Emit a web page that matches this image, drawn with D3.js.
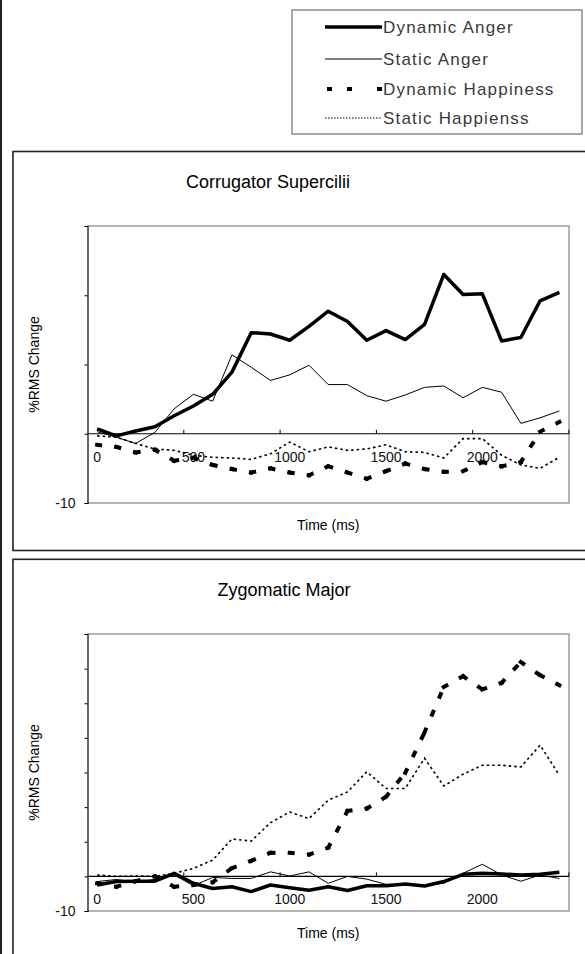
<!DOCTYPE html>
<html>
<head>
<meta charset="utf-8">
<script src="https://cdn.jsdelivr.net/npm/d3@7/dist/d3.min.js"></script>
<style>
  html, body { margin: 0; padding: 0; background: #fff; }
  svg { display: block; }
  text { font-family: "Liberation Sans", Arial, sans-serif; }
</style>
</head>
<body>
<svg id="chart" width="585" height="954"></svg>
<script>
// ---------- DATA ----------
const timeCategories = ["0","100","200","300","400","500","600","700","800","900","1000","1100","1200",
  "1300","1400","1500","1600","1700","1800","1900","2000","2100","2200","2300","2400"];
const xTickLabels = ["0","500","1000","1500","2000"];
const seriesNames = ["Dynamic Anger","Static Anger","Dynamic Happiness","Static Happienss"];

// Corrugator Supercilii (%RMS change)
const corDynamicAnger = [0.7,-0.3,0.4,1.0,2.6,4.0,5.7,8.9,14.6,14.4,13.5,15.5,17.7,16.2,13.5,14.9,13.6,15.8,23.0,20.1,20.2,13.4,13.9,19.2,20.4];
const corStaticAnger  = [0.3,-0.5,-1.4,0.2,3.6,5.7,4.7,11.4,9.6,7.7,8.5,9.9,7.1,7.1,5.5,4.7,5.6,6.7,6.9,5.2,6.7,6.0,1.5,2.3,3.3];
const corDynamicHappy = [-1.6,-1.9,-2.7,-2.3,-3.9,-3.5,-4.5,-5.1,-5.6,-5.0,-5.6,-6.0,-4.7,-5.6,-6.5,-5.4,-4.3,-5.1,-5.5,-5.4,-4.1,-4.7,-4.1,0.3,1.7];
const corStaticHappy  = [-0.3,-0.5,-1.4,-2.2,-2.4,-3.1,-3.4,-3.5,-3.7,-2.9,-1.2,-2.6,-1.9,-2.4,-2.2,-1.6,-2.6,-2.7,-3.5,-0.7,-0.7,-3.1,-4.5,-5.0,-3.4];

// Zygomatic Major (%RMS change)
const zygDynamicAnger = [-2.5,-1.5,-1.4,-1.4,0.9,-2.0,-3.5,-3.0,-4.4,-2.5,-3.3,-4.0,-3.0,-4.1,-2.7,-2.7,-2.2,-2.8,-1.5,0.6,0.9,0.7,0.4,0.6,1.2];
const zygStaticAnger  = [-1.5,-0.9,-1.6,-0.9,0.4,-2.7,-0.3,-0.6,-0.6,1.3,0.1,1.3,-2.0,0.0,-0.8,-2.3,-2.3,-2.5,-2.0,0.9,3.5,0.4,-1.4,0.4,-0.6];
const zygDynamicHappy = [-2.0,-3.0,-1.4,0.0,-3.0,-2.5,-1.7,2.4,4.5,6.8,6.8,6.3,8.3,18.9,19.6,23.0,29.9,41.6,54.7,57.8,54.0,55.9,61.9,58.1,55.2];
const zygStaticHappy  = [0.4,0.0,0.1,0.0,0.9,2.3,4.7,10.8,10.2,15.5,18.6,16.7,22.0,24.4,30.2,25.4,25.4,34.1,26.1,29.5,32.1,32.1,31.6,37.9,29.2];

const corYTicks = [-10,0,10,20,30];
const zygYTicks = [-10,0,10,20,30,40,50,60,70];
const shownYLabels = ["-10"];

// ---------- DRAW ----------
const svg = d3.select("#chart");
const W = 585, H = 954;
const FONT = '"Liberation Sans", Arial, sans-serif';

// page left edge line
svg.append("line").attr("x1",1).attr("x2",1).attr("y1",0).attr("y2",H)
  .attr("stroke","#222").attr("stroke-width",2);

// legend
const legend = svg.append("g");
legend.append("rect").attr("x",292).attr("y",10).attr("width",290).attr("height",124)
  .attr("fill","#fff").attr("stroke","#8a8a8a").attr("stroke-width",1.5);
const legendY = [27, 59, 89, 118];
const styles = [
  {w:3.5, dash:null},
  {w:1, dash:null},
  {w:4, dash:"5,15,5,25,5,200"},
  {w:1.3, dash:"1.5,1.5"}
];
seriesNames.forEach((name,i)=>{
  const st = styles[i];
  const ln = legend.append("line").attr("x1", i===2?327:325).attr("x2",382)
    .attr("y1",legendY[i]).attr("y2",legendY[i])
    .attr("stroke", i===3 ? "#555" : "#000").attr("stroke-width",st.w);
  if (st.dash) ln.attr("stroke-dasharray",st.dash);
  legend.append("text").attr("x",383).attr("y",legendY[i])
    .attr("dominant-baseline","central")
    .attr("font-size",17).attr("letter-spacing",1.2)
    .attr("fill","#3a3a3a").text(name);
});

function panel(cfg){
  const g = svg.append("g");
  // outer panel frame
  g.append("rect").attr("x",13).attr("y",cfg.panelTop).attr("width",700).attr("height",cfg.panelH)
    .attr("fill","none").attr("stroke","#222").attr("stroke-width",1.6);

  const x = d3.scaleBand().domain(timeCategories).range([87.5,569]).padding(0);
  const xc = c => x(c) + x.bandwidth()/2;
  const y = d3.scaleLinear().domain(cfg.yDomain).range(cfg.yRange);

  // title
  g.append("text").attr("x",cfg.titleX).attr("y",cfg.titleY)
    .attr("text-anchor","middle").attr("dominant-baseline","central")
    .attr("font-size",18).attr("fill","#000").text(cfg.title);

  // plot frame (top/right/bottom gray)
  const [x0,x1] = x.range();
  const yTop = y(cfg.yDomain[1]), yBot = y(cfg.yDomain[0]);
  g.append("path").attr("d",`M${x0},${yTop}H${x1}V${yBot}H${x0}`)
    .attr("fill","none").attr("stroke","#9a9a9a").attr("stroke-width",1.5);

  // y axis
  const yAxis = d3.axisLeft(y).tickValues(cfg.yTicks).tickSize(3).tickPadding(9)
    .tickFormat(d => shownYLabels.includes(String(d)) ? String(d) : "");
  const ya = g.append("g").attr("transform",`translate(${x0},0)`).call(yAxis);
  ya.select(".domain").attr("stroke","#000").attr("stroke-width",1.2);
  ya.selectAll(".tick line").attr("stroke","#000");
  ya.selectAll(".tick text").attr("font-size",14).attr("font-family",FONT).attr("fill","#111");

  // zero line (x axis)
  const y0 = y(0);
  g.append("line").attr("x1",x0).attr("x2",x1).attr("y1",y0).attr("y2",y0)
    .attr("stroke","#000").attr("stroke-width",1.2);
  // x ticks at band boundaries every 500ms, plus right end
  const tickPos = timeCategories.filter((c,i)=> i>0 && i%5===0).map(c=>x(c)).concat([x1]);
  g.selectAll(".xt").data(tickPos).enter().append("line")
    .attr("x1",d=>d).attr("x2",d=>d).attr("y1",y0).attr("y2",y0-4)
    .attr("stroke","#000").attr("stroke-width",1);
  g.selectAll(".xl").data(xTickLabels).enter().append("text")
    .attr("x",d=>xc(d)).attr("y",y0+23).attr("text-anchor","middle")
    .attr("dominant-baseline","central").attr("font-size",14).attr("fill","#111").text(d=>d);

  // y title
  const ymid = (yTop+yBot)/2;
  g.append("text").attr("transform",`translate(34,${ymid}) rotate(-90)`)
    .attr("text-anchor","middle").attr("dominant-baseline","central")
    .attr("font-size",14).attr("fill","#000").text("%RMS Change");
  // x title
  g.append("text").attr("x",(x0+x1)/2).attr("y",yBot+22)
    .attr("text-anchor","middle").attr("dominant-baseline","central")
    .attr("font-size",14).attr("fill","#000").text("Time (ms)");

  const line = d3.line().x(d=>xc(d.c)).y(d=>y(d.v));
  const pts = arr => arr.map((v,i)=>({c:timeCategories[i], v}));

  // static happiness (dotted)
  g.append("path").attr("d",line(pts(cfg.sh))).attr("fill","none")
    .attr("stroke","#000").attr("stroke-width",1.6).attr("stroke-dasharray","2.5,3");
  // static anger (thin)
  g.append("path").attr("d",line(pts(cfg.sa))).attr("fill","none")
    .attr("stroke","#000").attr("stroke-width",1);
  // dynamic happiness (thick dashes, pattern restarts each segment)
  d3.pairs(pts(cfg.dh)).forEach(pair=>{
    g.append("path").attr("d",line(pair)).attr("fill","none")
      .attr("stroke","#000").attr("stroke-width",4)
      .attr("stroke-linecap","square").attr("stroke-dasharray","3,16.3");
  });
  // dynamic anger (thick solid)
  g.append("path").attr("d",line(pts(cfg.da))).attr("fill","none")
    .attr("stroke","#000").attr("stroke-width",3.5).attr("stroke-linejoin","round");
}

panel({
  panelTop:151.5, panelH:399, title:"Corrugator Supercilii", titleX:268, titleY:182,
  yDomain:[-10,30], yRange:[503,226], yTicks:corYTicks,
  da:corDynamicAnger, sa:corStaticAnger, dh:corDynamicHappy, sh:corStaticHappy
});
panel({
  panelTop:559.3, panelH:600, title:"Zygomatic Major", titleX:284, titleY:590,
  yDomain:[-10,70], yRange:[911,634], yTicks:zygYTicks,
  da:zygDynamicAnger, sa:zygStaticAnger, dh:zygDynamicHappy, sh:zygStaticHappy
});
</script>
</body>
</html>
